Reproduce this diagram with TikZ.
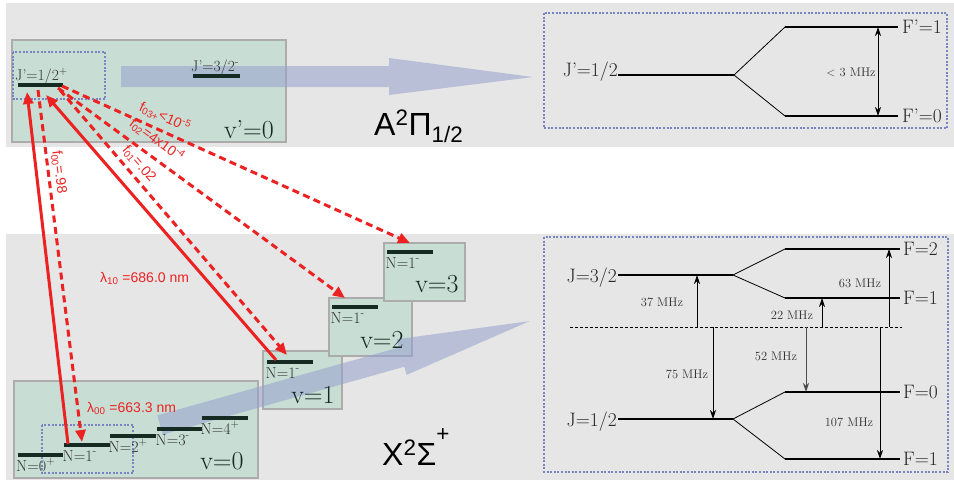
\documentclass[tikz,border=0pt]{standalone}
\usepackage{fontspec}
\newfontfamily\sfh{Liberation Sans}
\usetikzlibrary{arrows.meta,calc}
\definecolor{bggray}{RGB}{230,230,230}
\definecolor{boxgreen}{RGB}{200,222,212}
\definecolor{boxgray}{RGB}{172,172,172}
\definecolor{lvlcol}{RGB}{22,42,36}
\definecolor{dotblue}{RGB}{122,132,192}
\definecolor{arrblue}{RGB}{150,160,205}
\definecolor{redc}{RGB}{236,34,34}
\definecolor{txtgray}{RGB}{50,50,50}
\newcommand\lvlfont{\fontsize{16}{18}\selectfont}
\newcommand\vfont{\fontsize{26}{28}\selectfont}
\newcommand\hffont{\fontsize{19.5}{22}\selectfont}
\newcommand\mhzfont{\fontsize{12.5}{14}\selectfont}
\newcommand\redfont{\sfh\fontsize{14}{16}\selectfont}
\newcommand\bigsf{\sfh\fontsize{32}{36}\selectfont}
\begin{document}
\begin{tikzpicture}[x=1pt,y=-1pt,
  bg/.style={fill=bggray},
  vbox/.style={fill=boxgreen,draw=boxgray,line width=2.2pt},
  lvl/.style={draw=lvlcol,line width=3.5pt},
  bluedot/.style={draw=dotblue,line width=1.5pt,dash pattern=on 2pt off 1.6pt},
  bigarr/.style={fill=arrblue,fill opacity=0.55},
  rsolid/.style={draw=redc,line width=3pt,-{Triangle[length=12pt,width=10pt]}},
  rdash/.style={rsolid,dash pattern=on 7pt off 4.5pt},
  rlab/.style={text=redc,font=\redfont,inner sep=0pt},
  nlab/.style={text=txtgray,font=\lvlfont,inner sep=0pt,anchor=base west},
  vlab/.style={text=lvlcol,font=\vfont,inner sep=0pt,anchor=base},
  hfl/.style={line width=2.5pt,black},
  hfc/.style={line width=0.8pt,black},
  hfa/.style={line width=0.8pt,black,-{Stealth[length=9pt,width=6pt]}},
  hflab/.style={text=black!85,font=\hffont,inner sep=0pt},
  mhz/.style={text=txtgray,font=\mhzfont,inner sep=0pt}]
\useasboundingbox (0,0) rectangle (954,480);
\fill[white] (0,0) rectangle (954,480);
% background bands
\fill[bg] (6,3) rectangle (954,147);
\fill[bg] (6,234) rectangle (954,480);

% ---------- top left: v'=0 ----------
\draw[vbox] (12,40) rectangle (286,142);
\draw[bluedot] (13,52) rectangle (105,99);
\fill[bigarr] (121,66) -- (389,66) -- (389,58) -- (533,77) -- (389,95) -- (389,87) -- (121,87) -- cycle;
\coordinate (jpa) at (18,85); \coordinate (jpb) at (63,85);
\coordinate (jqa) at (193,76); \coordinate (jqb) at (240,76);
\draw[lvl] (jpa) -- (jpb);
\draw[lvl] (jqa) -- (jqb);
\node[nlab,font=\fontsize{15.5}{17}\selectfont] (ljp) at (15,80) {J'=1/2\textsuperscript{+}};
\node[nlab,font=\fontsize{15.5}{17}\selectfont] (ljq) at (191,71) {J'=3/2\textsuperscript{-}};
\node[vlab] (vp0) at (249,138) {v'=0};
\node[anchor=base west,inner sep=0pt,font=\bigsf] (Api) at (374,135) {A\textsuperscript{2}Π\textsubscript{1/2}};

% ---------- bottom left: X state ----------
\draw[vbox] (14,381) rectangle (258,478);
\draw[vbox] (263,351) rectangle (342,409);
\draw[vbox] (329,298) rectangle (412,356);
\draw[vbox] (384,243) rectangle (465,301);
\draw[bluedot] (42,425) rectangle (133,473);
\begin{scope}[shift={(160,425)},rotate=15.7]
\fill[bigarr] (0,-10) -- (251,-10) -- (251,-18.5) -- (384,0) -- (251,18.5) -- (251,10) -- (0,10) -- cycle;
\end{scope}
\coordinate (n0a) at (18,455); \coordinate (n0b) at (63,455);
\coordinate (n1a) at (64,445); \coordinate (n1b) at (110,445);
\coordinate (n2a) at (110,436); \coordinate (n2b) at (156,436);
\coordinate (n3a) at (157,429); \coordinate (n3b) at (202,429);
\coordinate (n4a) at (202,418); \coordinate (n4b) at (248,418);
\coordinate (m1a) at (267,362); \coordinate (m1b) at (313,362);
\coordinate (m2a) at (332,307); \coordinate (m2b) at (378,307);
\coordinate (m3a) at (387,252); \coordinate (m3b) at (433,252);
\foreach \a/\b in {n0a/n0b,n1a/n1b,n2a/n2b,n3a/n3b,n4a/n4b,m1a/m1b,m2a/m2b,m3a/m3b}
  \draw[lvl] (\a) -- (\b);
\node[nlab] (ln0) at (16,471) {N=0\textsuperscript{+}};
\node[nlab] (ln1) at (62.5,461) {N=1\textsuperscript{-}};
\node[nlab] (ln2) at (108.5,452) {N=2\textsuperscript{+}};
\node[nlab] (ln3) at (155.5,445) {N=3\textsuperscript{-}};
\node[nlab] (ln4) at (200.5,434) {N=4\textsuperscript{+}};
\node[nlab] (lm1) at (265.5,378) {N=1\textsuperscript{-}};
\node[nlab] (lm2) at (330.5,323) {N=1\textsuperscript{-}};
\node[nlab] (lm3) at (385.5,268) {N=1\textsuperscript{-}};
\node[vlab] (v0) at (222,469) {v=0};
\node[vlab] (v1) at (313,403) {v=1};
\node[vlab] (v2) at (382,348) {v=2};
\node[vlab] (v3) at (437,292) {v=3};
\node[anchor=base west,inner sep=0pt,font=\bigsf] (Xsig) at (382,465) {X\textsuperscript{2}Σ\raisebox{0.45em}{\textsuperscript{+}}};

% ---------- red transitions ----------
\coordinate (Ja) at (27,92);  \coordinate (Jb) at (38,90);
\coordinate (Jc) at (46,95);  \coordinate (Jd) at (60,90);
\coordinate (Je) at (58,88);  \coordinate (Jf) at (62,86);
\coordinate (Xa) at (68,444); \coordinate (Xb) at (82,442);
\coordinate (Xc) at (276,360); \coordinate (Xd) at (287,355);
\coordinate (Xe) at (345,298); \coordinate (Xf) at (410,243);
\draw[rsolid] (Xa) -- (Ja);
\draw[rdash] (Jb) -- (Xb);
\draw[rsolid] (Xc) -- (Jc);
\draw[rdash] (Jd) -- (Xd);
\draw[rdash] (Je) -- (Xe);
\draw[rdash] (Jf) -- (Xf);
\node[rlab,rotate=-83] (f00) at (59,172) {f\textsubscript{00}=.98};
\node[rlab,rotate=-49] (f01) at (139,164) {f\textsubscript{01}=.02};
\node[rlab,rotate=-36] (f02) at (157,140) {f\textsubscript{02}=4x10\textsuperscript{-4}};
\node[rlab,rotate=-24.3] (f03) at (165,117) {f\textsubscript{03+}<10\textsuperscript{-5}};
\node[rlab,anchor=base west] (l10) at (100,282) {λ\textsubscript{10} =686.0 nm};
\node[rlab,anchor=base west] (l00) at (87,412) {λ\textsubscript{00} =663.3 nm};

% ---------- top right: A state hyperfine ----------
\draw[bluedot] (544,13) rectangle (947,128);
\coordinate (tj1) at (618,75); \coordinate (tj2) at (734,75);
\coordinate (tf1a) at (785,27); \coordinate (tf1b) at (898,27);
\coordinate (tf0a) at (785,116); \coordinate (tf0b) at (898,116);
\draw[hfl] (tj1) -- (tj2);
\draw[hfc] (tj2) -- (tf1a);
\draw[hfc] (tj2) -- (tf0a);
\draw[hfl] (tf1a) -- (tf1b);
\draw[hfl] (tf0a) -- (tf0b);
\coordinate (ta1) at (878,27); \coordinate (ta0) at (878,116);
\draw[line width=0.8pt,{Stealth[length=9pt,width=6pt]}-{Stealth[length=9pt,width=6pt]}] (ta1) -- (ta0);
\node[hflab,anchor=base east] (ljr) at (618,76) {J'=1/2};
\node[hflab,anchor=base west] (lF1p) at (902,33.5) {F'=1};
\node[hflab,anchor=base west] (lF0p) at (902,122.5) {F'=0};
\node[mhz] (m3) at (851,72) {$<$ 3 MHz};

% ---------- bottom right: X state hyperfine ----------
\draw[bluedot] (544,237) rectangle (948,472);
\coordinate (bj3a) at (618,275); \coordinate (bj3b) at (733,275);
\coordinate (bf2a) at (785,249); \coordinate (bf2b) at (900,249);
\coordinate (bf1a) at (785,298); \coordinate (bf1b) at (900,298);
\coordinate (bj1a) at (618,419); \coordinate (bj1b) at (733,419);
\coordinate (bf0a) at (785,392); \coordinate (bf0b) at (900,392);
\coordinate (bg1a) at (785,459); \coordinate (bg1b) at (900,459);
\coordinate (dl) at (570,327); \coordinate (dr) at (902,327);
\draw[hfl] (bj3a) -- (bj3b);
\draw[hfc] (bj3b) -- (bf2a);
\draw[hfc] (bj3b) -- (bf1a);
\draw[hfl] (bf2a) -- (bf2b);
\draw[hfl] (bf1a) -- (bf1b);
\draw[hfl] (bj1a) -- (bj1b);
\draw[hfc] (bj1b) -- (bf0a);
\draw[hfc] (bj1b) -- (bg1a);
\draw[hfl] (bf0a) -- (bf0b);
\draw[hfl] (bg1a) -- (bg1b);
\draw[line width=0.9pt,dash pattern=on 3pt off 2pt] (dl) -- (dr);
\node[hflab,anchor=base east] (lJ3) at (617,282) {J=3/2};
\node[hflab,anchor=base east] (lJ1) at (617,426) {J=1/2};
\node[hflab,anchor=base west] (lF2) at (903,255.5) {F=2};
\node[hflab,anchor=base west] (lF1) at (903,304.5) {F=1};
\node[hflab,anchor=base west] (lF0) at (903,398.5) {F=0};
\node[hflab,anchor=base west] (lG1) at (903,465.5) {F=1};
\coordinate (a37s) at (697,327); \coordinate (a37e) at (697,275);
\coordinate (a75s) at (713,327); \coordinate (a75e) at (713,419);
\coordinate (a22s) at (822,327); \coordinate (a22e) at (822,298);
\coordinate (a52s) at (806,327); \coordinate (a52e) at (806,392);
\coordinate (a63s) at (889,327); \coordinate (a63e) at (889,249);
\coordinate (a107s) at (880,327); \coordinate (a107e) at (880,459);
\draw[hfa] (a37s) -- (a37e);
\draw[hfa] (a75s) -- (a75e);
\draw[hfa] (a22s) -- (a22e);
\draw[hfa,black!70] (a52s) -- (a52e);
\draw[hfa] (a63s) -- (a63e);
\draw[hfa] (a107s) -- (a107e);
\node[mhz] (t37) at (662,302) {37 MHz};
\node[mhz] (t75) at (687,374) {75 MHz};
\node[mhz] (t22) at (792,315) {22 MHz};
\node[mhz] (t52) at (776,356) {52 MHz};
\node[mhz] (t63) at (860,283) {63 MHz};
\node[mhz] (t107) at (849,422) {107 MHz};
\end{tikzpicture}
\end{document}
